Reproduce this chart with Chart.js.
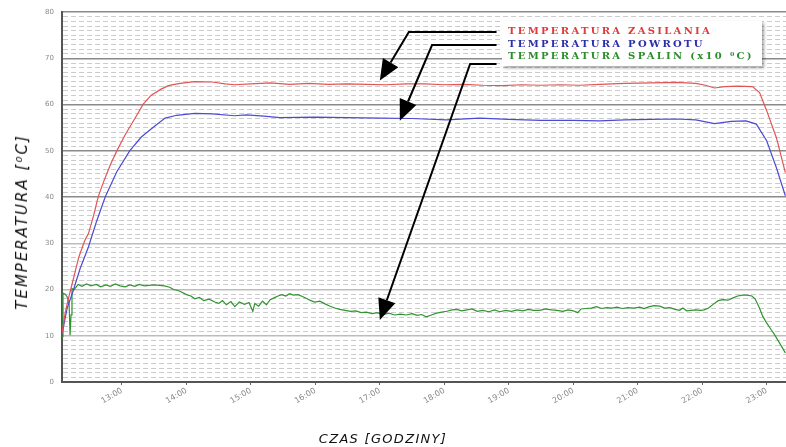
<!DOCTYPE html>
<html>
<head>
  <meta charset="utf-8">
  <title>Temperatura kotła</title>
  <script src="https://cdn.jsdelivr.net/npm/chart.js"></script>
  <style>
    body {
      margin: 0;
      background: #ffffff;
      font-family: "DejaVu Sans", sans-serif;
    }
    .wrap {
      position: relative;
      width: 786px;
      height: 447px;
      overflow: hidden;
    }
    .legend {
      position: absolute;
      left: 502px;
      top: 21px;
      width: 254px;
      height: 41px;
      padding: 4px 0 0 6px;
      background: #ffffff;
      box-shadow: 2px 2px 3px rgba(0,0,0,0.35);
      font-family: "DejaVu Serif", serif;
      font-weight: bold;
      font-size: 10px;
      letter-spacing: 2.3px;
      line-height: 12.5px;
      white-space: nowrap;
    }
    .ytitle {
      position: absolute;
      left: 22px;
      top: 222px;
      transform: translate(-50%, -50%) rotate(-90deg);
      font-style: italic;
      font-size: 15px;
      letter-spacing: 2px;
      color: #111;
      white-space: nowrap;
    }
    .xtitle {
      position: absolute;
      left: 383px;
      top: 438px;
      transform: translate(-50%, -50%);
      font-style: italic;
      font-size: 13px;
      letter-spacing: 1.3px;
      color: #111;
      white-space: nowrap;
    }
  </style>
</head>
<body>
  <div class="wrap">
    <canvas id="chart" width="786" height="447"></canvas>
    <div class="legend">
      <div style="color:#e03a3a">TEMPERATURA ZASILANIA</div>
      <div style="color:#2e2ea8">TEMPERATURA POWROTU</div>
      <div style="color:#2e8c2e">TEMPERATURA SPALIN (x10 ⁰C)</div>
    </div>
    <div class="ytitle">TEMPERATURA [⁰C]</div>
    <div class="xtitle">CZAS [GODZINY]</div>
  </div>

  <script>
    // godziny jako liczby (12.5 = 12:30)
    const xMin = 12.07;
    const xMax = 23.30;
    const xTickLabels = ['13:00', '14:00', '15:00', '16:00', '17:00', '18:00',
                         '19:00', '20:00', '21:00', '22:00', '23:00'];

    // temperatura zasilania
    const zasilanieHours = [12.07, 12.12, 12.17, 12.25, 12.33, 12.42, 12.48, 12.56, 12.63, 12.72, 12.82, 12.92,
      13.05, 13.2, 13.33, 13.45, 13.6, 13.72, 13.9, 14.13, 14.4, 14.6, 14.75, 15.0, 15.3, 15.6, 15.9,
      16.2, 16.5, 16.8, 17.1, 17.4, 17.7, 18.0, 18.3, 18.6, 18.9, 19.2, 19.5, 19.8, 20.1, 20.41,
      20.8, 21.2, 21.6, 21.9, 22.05, 22.19, 22.35, 22.55, 22.78, 22.89, 23.0, 23.15, 23.29];
    const zasilanieValues = [10.5, 15.0, 18.1, 22.5, 27.0, 30.5, 32.1, 36.0, 40.0, 43.5, 47.0, 50.0,
      53.5, 57.0, 60.1, 62.0, 63.3, 64.1, 64.6, 65.0, 64.9, 64.5, 64.3, 64.5, 64.7, 64.4, 64.6,
      64.4, 64.5, 64.4, 64.3, 64.5, 64.5, 64.3, 64.4, 64.2, 64.1, 64.3, 64.2, 64.3, 64.2, 64.4,
      64.6, 64.7, 64.8, 64.6, 64.2, 63.6, 63.9, 64.0, 63.9, 62.6, 58.7, 52.9, 45.3];

    // temperatura powrotu
    const powrotHours = [12.07, 12.15, 12.245, 12.35, 12.48, 12.6, 12.74, 12.92, 13.12, 13.3, 13.51, 13.67,
      13.85, 14.13, 14.4, 14.75, 14.93, 15.2, 15.45, 16.0, 16.48, 17.0, 17.5, 18.03, 18.55, 19.0,
      19.5, 20.0, 20.41, 20.8, 21.2, 21.6, 21.9, 22.19, 22.45, 22.68, 22.84, 23.0, 23.15, 23.29];
    const powrotValues = [10.3, 16.0, 19.8, 24.5, 29.2, 34.5, 40.0, 45.5, 50.0, 53.0, 55.4, 57.1,
      57.7, 58.1, 58.0, 57.6, 57.8, 57.5, 57.2, 57.3, 57.2, 57.1, 57.0, 56.7, 57.1, 56.8,
      56.6, 56.6, 56.5, 56.7, 56.8, 56.9, 56.7, 55.9, 56.4, 56.5, 55.8, 52.2, 46.4, 40.3];

    // temperatura spalin (x10 C)
    const spalinyHours = [12.07, 12.085, 12.12, 12.15, 12.18, 12.195, 12.21, 12.225, 12.26, 12.32, 12.38,
      12.45, 12.52, 12.6, 12.67, 12.75, 12.82, 12.9, 12.97, 13.05, 13.12, 13.2, 13.27, 13.35, 13.42,
      13.5, 13.58, 13.66, 13.74, 13.8, 13.87, 13.93, 14.0, 14.07, 14.13, 14.2, 14.27, 14.35, 14.44,
      14.5, 14.56, 14.62, 14.69, 14.75, 14.82, 14.9, 14.97, 15.03, 15.06, 15.12, 15.18, 15.24, 15.3,
      15.36, 15.42, 15.48, 15.54, 15.6, 15.66, 15.73, 15.8, 15.87, 15.93, 15.99, 16.07, 16.15, 16.23,
      16.3, 16.38, 16.46, 16.55, 16.63, 16.71, 16.79, 16.88, 16.96, 17.05, 17.14, 17.23, 17.32, 17.41,
      17.5, 17.58, 17.65, 17.72, 17.8, 17.88, 17.96, 18.04, 18.12, 18.19, 18.27, 18.35, 18.43, 18.51,
      18.6, 18.69, 18.78, 18.86, 18.95, 19.04, 19.13, 19.22, 19.3, 19.39, 19.48, 19.57, 19.66, 19.75,
      19.84, 19.92, 20.0, 20.07, 20.12, 20.2, 20.28, 20.36, 20.44, 20.52, 20.6, 20.68, 20.76, 20.85,
      20.94, 21.03, 21.1, 21.18, 21.26, 21.34, 21.42, 21.5, 21.58, 21.65, 21.7, 21.76, 21.83, 21.9,
      21.97, 22.03, 22.1, 22.18, 22.25, 22.32, 22.4, 22.48, 22.55, 22.63, 22.7, 22.77, 22.82, 22.88,
      22.94, 23.0, 23.07, 23.12, 23.18, 23.24, 23.29];
    const spalinyValues = [9.8, 19.2, 19.0, 18.4, 17.0, 10.1, 14.5, 20.2, 20.0, 21.1, 20.7,
      21.2, 20.8, 21.1, 20.6, 21.0, 20.7, 21.2, 20.8, 20.6, 21.0, 20.7, 21.1, 20.8, 20.9,
      21.0, 20.9, 20.8, 20.5, 20.0, 19.8, 19.4, 18.9, 18.6, 18.0, 18.3, 17.6, 17.9, 17.3,
      17.0, 17.6, 16.7, 17.4, 16.3, 17.3, 16.8, 17.2, 15.3, 17.0, 16.4, 17.5, 16.7, 17.8,
      18.2, 18.6, 18.9, 18.6, 19.1, 18.8, 18.9, 18.5, 18.0, 17.6, 17.3, 17.5, 16.9, 16.4,
      16.0, 15.7, 15.5, 15.3, 15.4, 15.0, 15.1, 14.8, 15.0, 14.6, 14.9, 14.5, 14.7, 14.5,
      14.8, 14.4, 14.6, 14.1, 14.5, 14.9, 15.1, 15.3, 15.6, 15.7, 15.4, 15.6, 15.8, 15.3,
      15.5, 15.2, 15.6, 15.2, 15.5, 15.3, 15.6, 15.4, 15.7, 15.5, 15.5, 15.8, 15.6, 15.5,
      15.3, 15.6, 15.4, 15.0, 15.8, 15.9, 16.0, 16.3, 15.9, 16.1, 16.0, 16.2, 15.9, 16.1,
      16.0, 16.2, 15.9, 16.3, 16.5, 16.4, 16.0, 16.1, 15.7, 15.5, 16.0, 15.4, 15.5, 15.6,
      15.5, 15.6, 16.0, 16.9, 17.6, 17.8, 17.7, 18.2, 18.6, 18.8, 18.8, 18.6, 18.0, 16.3,
      14.2, 12.8, 11.3, 10.3, 8.9, 7.5, 6.3];

    // strzalki opisu: [godzina, temperatura] od legendy do krzywej
    const arrowPaths = [
      [[18.81, 75.7], [17.45, 75.7], [17.0, 65.2]],
      [[18.81, 72.9], [17.81, 72.9], [17.31, 56.5]],
      [[18.81, 68.8], [18.40, 68.8], [17.0, 13.4]]
    ];

    function toPoints(hours, values) {
      return hours.map((h, i) => ({ x: h, y: values[i] }));
    }

    const arrowsPlugin = {
      id: 'arrows',
      afterDatasetsDraw(chart) {
        const ctx = chart.ctx;
        const xs = chart.scales.x;
        const ys = chart.scales.y;
        ctx.save();
        ctx.strokeStyle = '#000';
        ctx.fillStyle = '#000';
        ctx.lineWidth = 2;
        arrowPaths.forEach(path => {
          const pts = path.map(p => [xs.getPixelForValue(p[0]), ys.getPixelForValue(p[1])]);
          const n = pts.length;
          const tip = pts[n - 1];
          const prev = pts[n - 2];
          const ang = Math.atan2(tip[1] - prev[1], tip[0] - prev[0]);
          const len = 21, half = 9;
          const bx = tip[0] - Math.cos(ang) * len;
          const by = tip[1] - Math.sin(ang) * len;
          ctx.beginPath();
          ctx.moveTo(pts[0][0], pts[0][1]);
          for (let i = 1; i < n - 1; i++) ctx.lineTo(pts[i][0], pts[i][1]);
          ctx.lineTo(bx, by);
          ctx.stroke();
          ctx.beginPath();
          ctx.moveTo(tip[0], tip[1]);
          ctx.lineTo(bx + Math.sin(ang) * half, by - Math.cos(ang) * half);
          ctx.lineTo(bx - Math.sin(ang) * half, by + Math.cos(ang) * half);
          ctx.closePath();
          ctx.fill();
        });
        ctx.restore();
      }
    };

    const chart = new Chart(document.getElementById('chart'), {
      type: 'line',
      data: {
        datasets: [
          {
            label: 'TEMPERATURA ZASILANIA',
            data: toPoints(zasilanieHours, zasilanieValues),
            borderColor: '#e05555',
            borderWidth: 1.2,
            pointRadius: 0,
            tension: 0
          },
          {
            label: 'TEMPERATURA POWROTU',
            data: toPoints(powrotHours, powrotValues),
            borderColor: '#4a4ad4',
            borderWidth: 1.2,
            pointRadius: 0,
            tension: 0
          },
          {
            label: 'TEMPERATURA SPALIN (x10 ⁰C)',
            data: toPoints(spalinyHours, spalinyValues),
            borderColor: '#2f942f',
            borderWidth: 1.2,
            pointRadius: 0,
            tension: 0
          }
        ]
      },
      options: {
        responsive: false,
        animation: false,
        layout: { padding: { top: 11, right: 0, bottom: 0, left: 0 } },
        plugins: {
          legend: { display: false },
          tooltip: { enabled: false }
        },
        scales: {
          x: {
            type: 'linear',
            min: xMin,
            max: xMax,
            afterFit(scale) { scale.height = 65; },
            ticks: {
              stepSize: 1,
              includeBounds: false,
              autoSkip: false,
              minRotation: 30,
              maxRotation: 30,
              padding: 1,
              color: '#888',
              font: { family: 'DejaVu Sans', size: 8 },
              callback: v => xTickLabels[Math.round(v) - 13] || ''
            },
            grid: { drawOnChartArea: false, drawTicks: true, tickLength: 3, color: '#666' },
            border: { color: '#555', width: 2 }
          },
          y: {
            min: 0,
            max: 80,
            afterFit(scale) { scale.width = 62; },
            ticks: {
              stepSize: 1,
              autoSkip: false,
              padding: 8,
              color: '#888',
              font: { family: 'DejaVu Sans', size: 7 },
              callback: v => (v % 10 === 0 ? v : '')
            },
            grid: {
              drawTicks: false,
              color: ctx => {
                const v = ctx.tick ? ctx.tick.value : 0;
                if (v % 10 !== 0) return '#cccccc';
                return v >= 40 ? '#8a8a8a' : '#bdbdbd';
              },
              lineWidth: ctx => (ctx.tick && ctx.tick.value % 10 === 0 ? 1.6 : 1)
            },
            border: {
              color: '#555',
              width: 2,
              dash: ctx => (ctx.tick && ctx.tick.value % 10 !== 0 ? [5, 3] : [])
            }
          }
        }
      },
      plugins: [arrowsPlugin]
    });
  </script>
</body>
</html>
